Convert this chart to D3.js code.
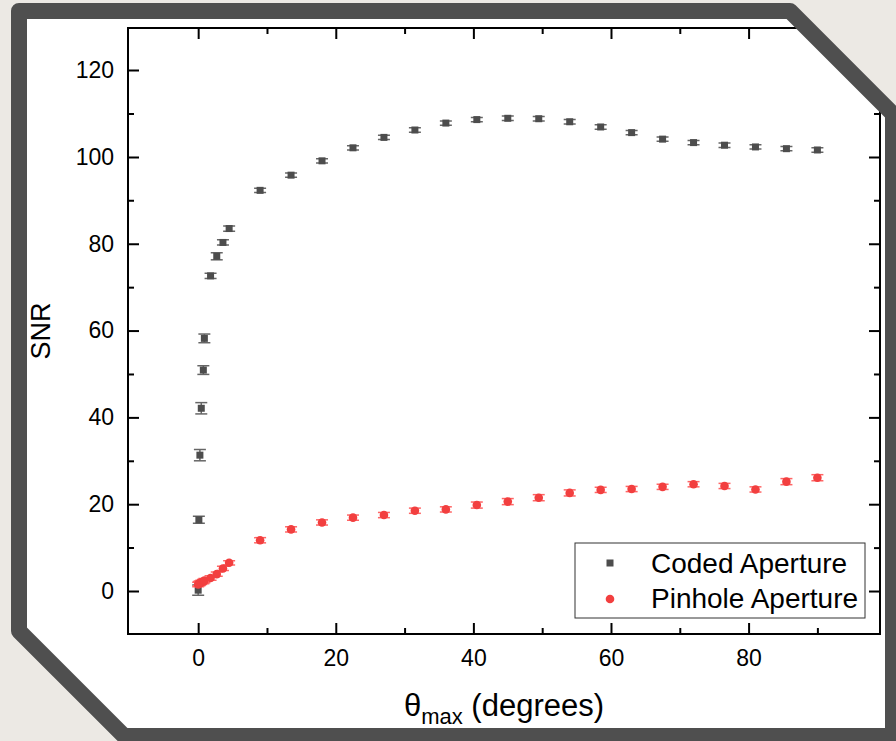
<!DOCTYPE html>
<html>
<head>
<meta charset="utf-8">
<script src="https://cdn.jsdelivr.net/npm/d3@7"></script>
<style>
  html, body { margin: 0; padding: 0; background: #ece9e4; }
  svg { display: block; }
  text { font-family: Arial, "Liberation Sans", sans-serif; fill: #000; }
</style>
</head>
<body>
<div class="root"></div>
<script>
const width = 896;
const height = 741;

// data
const thetaMax = [0, 0.1, 0.25, 0.45, 0.75, 0.9, 1.8, 2.7, 3.6, 4.5,
  9, 13.5, 18, 22.5, 27, 31.5, 36, 40.5, 45, 49.5, 54, 58.5, 63, 67.5, 72, 76.5, 81, 85.5, 90];
const codedSNR = [0.2, 16.4, 31.3, 42.1, 50.9, 58.2, 72.6, 77.1, 80.3, 83.5,
  92.3, 95.8, 99.1, 102.1, 104.5, 106.2, 107.8, 108.6, 108.9, 108.8, 108.1, 106.9, 105.6, 104.1, 103.3, 102.7, 102.3, 101.9, 101.6];
const codedErr = [1.2, 0.8, 1.3, 1.3, 1.0, 1.0, 0.6, 0.8, 0.6, 0.6,
  0.5, 0.5, 0.5, 0.5, 0.5, 0.5, 0.5, 0.5, 0.5, 0.5, 0.5, 0.5, 0.5, 0.5, 0.5, 0.5, 0.5, 0.5, 0.5];
const pinholeSNR = [1.5, 1.7, 1.8, 2.0, 2.2, 2.4, 3.0, 3.9, 5.2, 6.5,
  11.7, 14.2, 15.8, 16.9, 17.5, 18.5, 18.8, 19.8, 20.6, 21.5, 22.6, 23.3, 23.5, 24.0, 24.6, 24.2, 23.4, 25.2, 26.1];
const pinholeErr = [0.5, 0.5, 0.5, 0.5, 0.5, 0.5, 0.5, 0.5, 0.5, 0.5,
  0.6, 0.6, 0.6, 0.6, 0.6, 0.6, 0.6, 0.7, 0.7, 0.7, 0.7, 0.6, 0.6, 0.6, 0.6, 0.6, 0.6, 0.7, 0.7];
const seriesNames = ["Coded Aperture", "Pinhole Aperture"];
const xMajor = [0, 20, 40, 60, 80];
const xMinor = [10, 30, 50, 70, 90];
const yMajor = [0, 20, 40, 60, 80, 100, 120];
const yMinor = [10, 30, 50, 70, 90, 110];

const frameColor = "#4f4f4f";
const codedColor = "#4d4d4d";
const pinholeColor = "#f23f3f";

const svg = d3.select("div.root").append("svg")
  .attr("width", width)
  .attr("height", height);

// frame outline (chamfered card)
const framePts = [[19, 11], [790, 11], [893, 114], [893, 736], [124, 736], [19, 631]];
const framePath = "M" + framePts.map(p => p.join(",")).join("L") + "Z";

svg.append("defs").append("clipPath").attr("id", "card")
  .append("path").attr("d", framePath);

svg.append("path").attr("d", framePath).attr("fill", "#fff");

const g = svg.append("g").attr("clip-path", "url(#card)");

const pLeft = 128, pRight = 880, pTop = 28, pBottom = 634;

const x = d3.scaleLinear().domain([-10.2, 99.1]).range([pLeft, pRight]);
const y = d3.scaleLinear().domain([-9.9, 129.7]).range([pBottom, pTop]);

// axes, ticks pointing inward
function addAxis(axis, tx, ty, cls) {
  const a = g.append("g")
    .attr("class", cls)
    .attr("transform", `translate(${tx},${ty})`)
    .call(axis);
  a.select(".domain").remove();
  a.selectAll(".tick line").attr("stroke", "#000").attr("stroke-width", 2);
  return a;
}

const xb = addAxis(d3.axisBottom(x).tickValues(xMajor).tickSize(-11).tickPadding(16), 0, pBottom, "xaxis");
xb.selectAll("text").style("font-size", "23px");
addAxis(d3.axisBottom(x).tickValues(xMinor).tickSize(-6).tickFormat(""), 0, pBottom, "xminor");
addAxis(d3.axisTop(x).tickValues(xMajor).tickSize(-11).tickFormat(""), 0, pTop, "xtop");
addAxis(d3.axisTop(x).tickValues(xMinor).tickSize(-6).tickFormat(""), 0, pTop, "xtopminor");

const yl = addAxis(d3.axisLeft(y).tickValues(yMajor).tickSize(-11).tickPadding(14), pLeft, 0, "yaxis");
yl.selectAll("text").style("font-size", "23px");
addAxis(d3.axisLeft(y).tickValues(yMinor).tickSize(-6).tickFormat(""), pLeft, 0, "yminor");
addAxis(d3.axisRight(y).tickValues(yMajor).tickSize(-11).tickFormat(""), pRight, 0, "yright");
addAxis(d3.axisRight(y).tickValues(yMinor).tickSize(-6).tickFormat(""), pRight, 0, "yrightminor");

g.append("rect")
  .attr("x", pLeft).attr("y", pTop)
  .attr("width", pRight - pLeft).attr("height", pBottom - pTop)
  .attr("fill", "none").attr("stroke", "#000").attr("stroke-width", 2);

// error bars + markers
function drawSeries(vals, errs, color, barColor, shape) {
  const data = thetaMax.map((t, i) => ({ t, v: vals[i], e: errs[i] }));
  const s = g.append("g");
  const eb = s.selectAll("g.err").data(data).enter().append("g").attr("class", "err")
    .attr("stroke", barColor).attr("stroke-width", 1.5);
  eb.append("line")
    .attr("x1", d => x(d.t)).attr("x2", d => x(d.t))
    .attr("y1", d => y(d.v - d.e)).attr("y2", d => y(d.v + d.e));
  eb.append("line")
    .attr("x1", d => x(d.t) - 6).attr("x2", d => x(d.t) + 6)
    .attr("y1", d => y(d.v + d.e)).attr("y2", d => y(d.v + d.e));
  eb.append("line")
    .attr("x1", d => x(d.t) - 6).attr("x2", d => x(d.t) + 6)
    .attr("y1", d => y(d.v - d.e)).attr("y2", d => y(d.v - d.e));
  if (shape === "square") {
    s.selectAll("rect.pt").data(data).enter().append("rect").attr("class", "pt")
      .attr("x", d => x(d.t) - 3.5).attr("y", d => y(d.v) - 3.5)
      .attr("width", 7).attr("height", 7).attr("fill", color);
  } else {
    s.selectAll("circle.pt").data(data).enter().append("circle").attr("class", "pt")
      .attr("cx", d => x(d.t)).attr("cy", d => y(d.v))
      .attr("r", 4.3).attr("fill", color);
  }
}

drawSeries(codedSNR, codedErr, codedColor, "#666", "square");
drawSeries(pinholeSNR, pinholeErr, pinholeColor, "#f66", "circle");

// legend
const lg = g.append("g");
lg.append("rect")
  .attr("x", 575).attr("y", 543).attr("width", 290).attr("height", 75)
  .attr("fill", "#fff").attr("stroke", "#333").attr("stroke-width", 1);
lg.append("rect").attr("x", 606.5).attr("y", 559.5).attr("width", 7).attr("height", 7).attr("fill", codedColor);
lg.append("circle").attr("cx", 610).attr("cy", 599).attr("r", 4.3).attr("fill", pinholeColor);
lg.selectAll("text.leg").data(seriesNames).enter().append("text").attr("class", "leg")
  .attr("x", 651).attr("y", (d, i) => 573 + i * 35)
  .style("font-size", "28px")
  .text(d => d);

// axis titles
g.append("text")
  .attr("transform", "translate(50,331) rotate(-90)")
  .attr("text-anchor", "middle")
  .style("font-size", "27px")
  .text("SNR");

const xt = g.append("text")
  .attr("x", 504).attr("y", 716)
  .attr("text-anchor", "middle")
  .style("font-size", "31px");
xt.append("tspan").text("θ");
xt.append("tspan").attr("dy", 8).style("font-size", "22px").text("max");
xt.append("tspan").attr("dy", -8).text(" (degrees)");

// frame border on top
svg.append("path").attr("d", framePath)
  .attr("fill", "none").attr("stroke", frameColor)
  .attr("stroke-width", 16).attr("stroke-linejoin", "round");
</script>
</body>
</html>
